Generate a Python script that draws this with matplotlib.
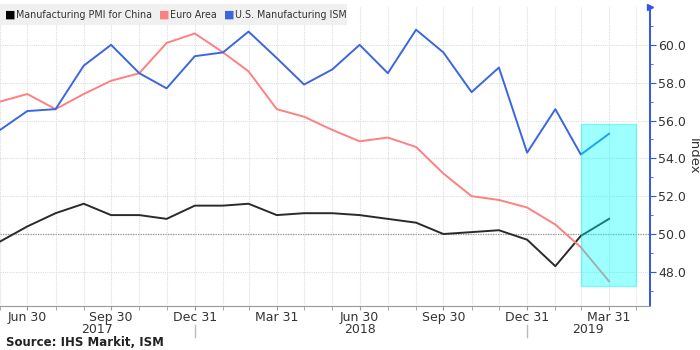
import datetime as dt

import matplotlib
matplotlib.use("Agg")
import matplotlib.pyplot as plt
import matplotlib.dates as mdates
from matplotlib.patches import Rectangle

# month-end readings, May 2017 .. Mar 2019
months = ["2017-05-31", "2017-06-30", "2017-07-31", "2017-08-31", "2017-09-30",
          "2017-10-31", "2017-11-30", "2017-12-31", "2018-01-31", "2018-02-28",
          "2018-03-31", "2018-04-30", "2018-05-31", "2018-06-30", "2018-07-31",
          "2018-08-31", "2018-09-30", "2018-10-31", "2018-11-30", "2018-12-31",
          "2019-01-31", "2019-02-28", "2019-03-31"]
china = [49.6, 50.4, 51.1, 51.6, 51.0, 51.0, 50.8, 51.5, 51.5, 51.6, 51.0, 51.1,
         51.1, 51.0, 50.8, 50.6, 50.0, 50.1, 50.2, 49.7, 48.3, 49.9, 50.8]
euro = [57.0, 57.4, 56.6, 57.4, 58.1, 58.5, 60.1, 60.6, 59.6, 58.6, 56.6, 56.2,
        55.5, 54.9, 55.1, 54.6, 53.2, 52.0, 51.8, 51.4, 50.5, 49.3, 47.5]
ism = [55.5, 56.5, 56.6, 58.9, 60.0, 58.5, 57.7, 59.4, 59.6, 60.7, 59.3, 57.9,
       58.7, 60.0, 58.5, 60.8, 59.6, 57.5, 58.8, 54.3, 56.6, 54.2, 55.3]
series_names = ["Manufacturing PMI for China", "Euro Area", "U.S. Manufacturing ISM"]
yticks = [48.0, 50.0, 52.0, 54.0, 56.0, 58.0, 60.0]
year_labels = [("2017", "2017-09-15"), ("2018", "2018-06-30"), ("2019", "2019-03-08")]
year_breaks = ["2017-12-31", "2018-12-31"]
highlight = ("2019-02-28", "2019-04-30", 47.25, 55.8)

dates = [dt.datetime.fromisoformat(m) for m in months]

plt.rcParams["font.family"] = "DejaVu Sans"
fig = plt.figure(figsize=(7, 3.5), dpi=100)
ax = fig.add_axes([0.0, 0.126, 0.9286, 0.854])

colors = ["#2a2a2a", "#ff8080", "#3a66e0"]
for vals, col in zip([china, euro, ism], colors):
    ax.plot(dates, vals, color=col, linewidth=1.4, zorder=3)

ax.axhline(50.0, color="#999999", linestyle=(0, (1, 1)), linewidth=0.9, zorder=2)

# shaded box over the latest readings
x0 = mdates.date2num(dt.datetime.fromisoformat(highlight[0]))
x1 = mdates.date2num(dt.datetime.fromisoformat(highlight[1]))
ax.add_patch(Rectangle((x0, highlight[2]), x1 - x0, highlight[3] - highlight[2],
                       facecolor="#00ffff", alpha=0.38, edgecolor="#00e8e8",
                       linewidth=1.0, zorder=4))

ax.set_xlim(dt.datetime(2017, 5, 31), dt.datetime(2019, 5, 15))
ax.set_ylim(46.2, 62.0)

# monthly minor ticks, quarterly labels
ax.xaxis.set_major_locator(mdates.MonthLocator(bymonth=[3, 6, 9, 12], bymonthday=-1))
ax.xaxis.set_minor_locator(mdates.MonthLocator(bymonthday=-1))
ax.xaxis.set_major_formatter(mdates.DateFormatter("%b %d"))
ax.grid(True, which="both", axis="x", color="#dddddd", linestyle=(0, (1, 1)), linewidth=0.8)
ax.grid(True, which="major", axis="y", color="#dddddd", linestyle=(0, (1, 1)), linewidth=0.8)
ax.set_axisbelow(True)

ax.yaxis.tick_right()
ax.yaxis.set_label_position("right")
ax.set_yticks(yticks)
ax.set_yticks([v + 1 for v in yticks[:-1]] + [47.0, 61.0], minor=True)
ax.set_yticklabels([f"{v:.1f}" for v in yticks])
ax.set_ylabel("Index", rotation=270, labelpad=10, fontsize=9.5, color="#333333")

for side in ["top", "left"]:
    ax.spines[side].set_visible(False)
ax.spines["right"].set_color("#3355ee")
ax.spines["right"].set_linewidth(1.4)
ax.spines["bottom"].set_color("#999999")
ax.tick_params(axis="y", which="both", colors="#3355ee", labelcolor="#333333",
               labelsize=9, direction="out", pad=2)
ax.tick_params(axis="y", which="major", length=4)
ax.tick_params(axis="y", which="minor", length=2)
ax.tick_params(axis="x", which="both", colors="#999999", labelcolor="#333333",
               labelsize=9, length=3, pad=0.5)
ax.plot([1.0], [1.0], marker=">", color="#3355ee", markersize=4,
        transform=ax.transAxes, clip_on=False)

# year row under the quarter labels
xt = ax.get_xaxis_transform()
for label, pos in year_labels:
    ax.text(dt.datetime.fromisoformat(pos), -0.08, label, transform=xt,
            ha="center", va="center", fontsize=9, color="#333333")
for b in year_breaks:
    ax.plot([dt.datetime.fromisoformat(b)] * 2, [-0.063, -0.104], color="#bbbbbb",
            linewidth=1, transform=xt, clip_on=False)

# legend strip
fig.patches.append(Rectangle((0.0, 0.93), 0.495, 0.058, transform=fig.transFigure,
                             facecolor="#f0f0f0", edgecolor="none", zorder=5))
x = 0.007
for name, col in zip(series_names, colors):
    fig.text(x, 0.957, "\u25a0", color="black" if col == "#2a2a2a" else col,
             fontsize=8, va="center", ha="left", zorder=6)
    t = fig.text(x + 0.016, 0.957, name, color="#333333", fontsize=7.7,
                 fontstretch="condensed", va="center", ha="left", zorder=6)
    fig.canvas.draw()
    x = t.get_window_extent().x1 / fig.bbox.width + 0.01

fig.text(0.008, 0.02, "Source: IHS Markit, ISM", fontsize=8.5, fontweight="bold",
         color="#222222", ha="left", va="center")

fig.savefig("out.png", dpi=100)
